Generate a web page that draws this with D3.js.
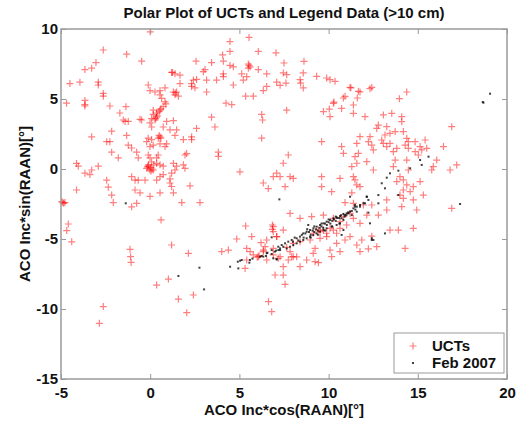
<!DOCTYPE html>
<html><head><meta charset="utf-8">
<script src="https://cdn.jsdelivr.net/npm/d3@7"></script>
<style>
html,body{margin:0;padding:0;background:#fff;}
svg{display:block;}
text{font-family:"Liberation Sans",Arial,sans-serif;font-weight:bold;fill:#111;}
</style></head>
<body>
<svg id="chart" width="521" height="423"></svg>
<script>
const titleText = "Polar Plot of UCTs and Legend Data (>10 cm)";
const xLabelText = "ACO Inc*cos(RAAN)[°]";
const yLabelText = "ACO Inc*sin(RAAN)[°]";
const xTicks = [-5, 0, 5, 10, 15, 20];
const yTicks = [-15, -10, -5, 0, 5, 10];
const seriesNames = ["UCTs", "Feb 2007"];

// UCTs (red +), [x, y]
const uctUpperLeft = [[0.0,9.8],[4.47,9.1],[5.54,9.4],[-2.63,8.5],[-1.32,8.2],[-0.48,7.7],[4.47,8.4],[6.06,8.4],[7.05,8.3],[-3.04,7.6],[-3.28,7.2],[-3.66,7.1],[4.06,8.15],[4.1,7.7],[2.57,7.7],[3.44,7.6],[4.47,7.4],[4.66,7.3],[5.54,7.4],[5.5,7.2],[5.5,7.5],[5.6,7.3],[1.2,6.9],[1.25,6.9],[1.39,6.8],[1.67,6.7],[2.98,6.95],[3.07,7.1],[2.6,6.4],[2.42,6.35],[2.32,6.1],[3.16,6.35],[3.72,6.35],[4.1,6.6],[4.1,6.8],[5.13,6.8],[5.41,6.6],[5.22,6.35],[6.06,7.1],[6.53,6.8],[7.09,6.2],[6.34,5.6],[6.53,5.9],[5.35,5.2],[5.78,5.2],[4.66,6.0],[-4.5,6.1],[-3.94,6.2],[-2.91,6.2],[-2.91,6.0],[-2.63,5.4],[-2.63,5.2],[1.67,6.1],[2.32,5.9],[2.51,5.8],[3.16,5.5],[-0.11,6.0],[-0.01,5.6],[0.27,5.5],[0.55,5.6],[0.83,5.8],[1.3,5.5],[1.39,5.3],[1.48,5.5],[1.58,5.2],[1.4,5.45],[-4.69,4.7],[-3.66,4.9],[-3.66,4.6],[-3.66,4.5],[-2.26,4.5],[-1.36,4.45],[-1.7,4.0],[0.83,4.8],[0.88,4.65],[0.73,4.45],[0.55,4.2],[0.36,4.0],[0.17,3.9],[0.08,3.6],[-0.01,3.3],[0.08,3.0],[0.27,3.5],[0.36,3.7],[0.17,4.2],[0.4,3.8],[0.5,4.1],[0.6,4.3],[0.3,3.6],[0.55,5.3],[0.64,5.05],[-0.48,3.5],[-0.57,3.55],[-1.41,3.4],[-1.23,3.4],[-1.51,3.5],[0.92,3.4],[1.3,3.45],[0.73,3.0],[1.11,2.8],[1.39,2.4],[1.48,2.8],[3.44,3.7],[3.63,3.0],[2.6,2.9],[4.25,4.7],[4.57,4.6]];
const uctMiddleLeft = [[-3.28,2.3],[-2.44,1.95],[-2.26,1.95],[-2.16,2.7],[-1.32,2.4],[-1.23,1.7],[-1.04,1.5],[-2.16,1.2],[-1.79,0.8],[-0.76,1.2],[-0.67,0.8],[-0.11,2.2],[0.08,2.1],[0.17,1.7],[-0.01,1.6],[-0.2,1.95],[0.55,2.3],[0.5,2.4],[0.6,2.2],[0.45,2.2],[0.55,1.8],[0.92,1.8],[0.83,1.6],[1.86,2.1],[2.32,2.3],[2.32,2.1],[2.04,1.1],[1.95,1.0],[3.82,1.2],[3.82,0.9],[-0.11,1.0],[-0.01,0.8],[0.08,0.5],[-0.11,0.2],[-0.01,-0.07],[-0.2,0.05],[0.0,0.1],[-0.1,0.3],[0.1,0.0],[0.05,-0.15],[-0.15,0.15],[0.2,0.3],[0.36,0.8],[0.45,1.0],[0.36,0.4],[0.55,0.3],[0.73,0.2],[0.17,-0.07],[1.3,0.4],[1.48,0.2],[1.39,-0.07],[1.2,-0.3],[1.86,0.3],[1.95,0.05],[-4.13,0.4],[-4.03,0.2],[-3.66,-0.3],[-3.28,-0.07],[-3.38,-0.4],[-2.91,0.2],[-2.44,-0.8],[-2.35,-1.3],[-4.13,-1.5],[-1.04,-0.55],[-0.85,-0.8],[-0.67,-0.8],[-0.29,-0.8],[0.36,-0.8],[0.55,-0.55],[0.73,-0.4],[1.11,-0.7],[1.11,-1.0],[1.2,-1.25],[-0.85,-1.5],[-0.57,-1.7],[0.55,-1.7],[1.3,-1.7],[2.23,-1.2],[-0.01,-1.95],[5.03,-0.2],[6.25,2.2],[6.3,3.5],[6.25,3.9],[6.34,-1.0],[6.62,-1.4],[6.9,-0.55],[7.09,-0.3],[7.28,-0.55]];
const uctLowerLeft = [[-2.16,-1.86],[-0.76,-2.45],[-1.04,-2.7],[-2.07,-2.4],[-4.78,-2.4],[-4.96,-2.33],[-4.85,-2.45],[-4.9,-2.4],[1.77,-2.4],[2.79,-2.4],[-4.59,-3.93],[-4.68,-4.4],[-4.4,-5.2],[0.61,-3.64],[-1.13,-5.74],[-1.1,-6.26],[-1.07,-6.67],[1.2,-5.43],[2.14,-6.02],[1.02,-7.86],[0.36,-8.29],[1.58,-9.29],[2.42,-9.0],[2.05,-10.26],[-2.63,-9.83],[-2.85,-11.02],[5.35,-4.07],[5.69,-4.83],[4.85,-5.0],[6.21,-5.26],[6.85,-4.0],[6.85,-4.31],[4.01,-5.9],[4.38,-5.79],[5.41,-5.67],[5.6,-5.9],[5.78,-6.14],[6.06,-6.26],[6.0,-6.3],[6.1,-6.2],[5.41,-6.5],[5.32,-7.1],[6.35,-5.79],[6.53,-6.5],[7.09,-4.83],[6.9,-5.67],[7.0,-7.57],[6.63,-9.48],[6.81,-10.19]];
const uctUpperRight = [[7.5,7.57],[8.62,7.69],[7.46,6.86],[7.65,6.74],[8.58,6.86],[7.28,5.98],[7.61,6.14],[8.4,6.38],[8.43,6.14],[8.58,5.79],[9.33,6.62],[9.89,6.5],[10.08,6.38],[10.36,6.26],[11.2,5.83],[11.25,5.8],[11.67,5.55],[11.76,5.5],[12.42,5.83],[12.32,5.74],[14.38,5.5],[13.97,5.02],[10.92,5.19],[10.83,5.07],[11.61,5.07],[10.3,4.78],[10.04,4.28],[10.27,4.69],[10.73,4.33],[11.39,4.57],[11.39,3.98],[10.08,3.74],[9.71,4.1],[7.65,4.2],[12.04,3.74],[13.07,3.86],[13.54,3.98],[14.1,3.74],[14.1,3.38],[12.79,3.14],[12.7,2.9],[13.26,3.02],[13.73,2.67],[13.44,2.55],[13.16,2.43],[12.98,2.07],[13.07,1.83],[13.26,1.6],[13.44,1.83],[13.63,1.24],[13.82,1.48],[14.19,2.67],[14.38,2.19],[14.47,1.95],[14.29,1.71],[14.47,1.48],[14.85,1.95],[15.13,1.6],[15.41,2.07],[14.85,1.24],[15.03,1.0],[15.22,1.36],[15.5,1.48],[16.06,0.64],[15.87,0.17],[15.78,-0.07],[16.44,1.6],[16.9,3.02],[17.18,0.29],[16.81,-0.07],[16.9,-2.81],[11.76,2.31],[12.23,1.95],[12.32,2.31],[12.42,1.71],[12.51,1.36],[11.58,1.83],[10.73,1.6],[10.83,1.12],[9.61,1.95],[7.74,1.0],[7.46,0.41],[11.3,0.17],[11.58,0.41],[12.14,0.52],[12.51,-0.07],[11.67,1.12],[11.48,0.88],[14.38,0.64],[14.47,-0.07],[13.73,0.64],[13.63,0.17]];
const uctLowerRight = [[7.56,-1.26],[7.84,-0.55],[8.02,-0.67],[9.61,-0.55],[9.61,-1.26],[10.17,-1.62],[10.64,-0.67],[11.39,-0.55],[11.48,-0.78],[11.58,-1.14],[11.76,-1.26],[11.3,-1.7],[10.92,-2.4],[11.39,-2.45],[11.95,-2.57],[14.0,-0.55],[14.19,-0.78],[14.38,-1.14],[14.19,-1.5],[14.0,-1.86],[14.19,-2.1],[14.57,-1.62],[14.75,-1.26],[15.13,-0.9],[15.31,-1.86],[14.75,-2.21],[14.94,-2.93],[14.1,-2.69],[13.26,-2.21],[13.82,-0.9],[13.26,-2.93],[12.79,-3.29],[12.42,-2.57],[12.14,-3.29],[11.76,-3.88],[11.39,-3.52],[11.2,-3.17],[10.83,-3.4],[10.64,-3.76],[10.27,-3.52],[10.08,-4.24],[9.71,-4.36],[9.43,-4.36],[9.05,-3.4],[9.71,-3.3],[8.4,-3.52],[7.84,-3.17],[6.9,-4.12],[6.9,-4.48],[7.09,-4.83],[7.46,-4.36],[6.53,-5.07],[6.44,-5.55],[6.34,-5.9],[10.45,-5.31],[10.08,-5.79],[10.17,-6.26],[10.64,-5.9],[10.92,-5.07],[11.2,-4.83],[11.58,-5.43],[11.86,-5.07],[12.42,-4.8],[12.23,-5.7],[12.7,-5.55],[13.44,-4.36],[13.91,-4.36],[14.75,-4.24],[14.29,-5.67],[8.02,-5.31],[8.4,-5.19],[8.96,-5.07],[9.24,-5.67],[9.14,-6.02],[8.77,-6.5],[9.24,-6.62],[9.43,-6.69],[7.46,-6.98],[8.02,-6.26],[7.28,-6.26],[6.9,-6.14],[9.14,-4.59],[9.52,-4.48],[9.89,-4.59],[10.27,-4.36],[10.64,-4.24],[11.01,-4.0],[9.89,-4.83],[9.52,-4.95],[10.45,-4.59],[7.46,-7.58],[7.56,-8.24],[8.4,-6.98],[11.76,-5.9],[7.18,-6.38],[7.93,-6.27],[8.21,-6.27],[7.74,-6.5],[7.84,-5.9],[7.65,-5.6]];

// Feb 2007 (black dots), [x, y]
const febOutliers = [[-1.37,-2.45],[2.76,-7.05],[1.58,-7.64],[3.02,-8.6],[7.24,-2.17],[18.68,4.74],[19.05,5.38],[18.64,4.78],[17.37,-2.5],[12.42,-4.95],[13.16,-4.6],[12.42,-5.07],[12.51,-5.07],[13.91,-1.86]];
const febArm = [[15.6,0.88],[15.13,0.64],[15.22,0.29],[14.57,0.05],[13.91,-0.12],[13.44,-0.31],[13.26,-0.62],[12.98,-1.02],[13.16,-1.38],[12.79,-1.86],[12.79,-2.45],[12.32,-3.88],[12.14,-1.98],[12.23,-2.21],[11.95,-2.45],[11.76,-2.69],[11.48,-2.69],[11.2,-1.98],[12.14,-1.98],[12.23,-3.12]];
const febBand = [[4.48,-6.98],[4.94,-7.1],[4.91,-6.62],[5.04,-6.55],[5.13,-6.5],[5.56,-6.69],[5.73,-6.4],[5.59,-6.5],[6.16,-6.26],[6.25,-6.21],[6.49,-6.21],[6.57,-5.98],[7.06,-5.83],[7.19,-5.79],[7.09,-6.45],[6.81,-4.88],[6.81,-5.79],[6.9,-6.38],[7.18,-5.55],[7.28,-5.67],[7.37,-5.43],[7.56,-5.31],[7.74,-5.19],[7.93,-5.07],[8.21,-4.95],[8.4,-4.83],[8.58,-4.6],[8.77,-4.48],[8.86,-4.0],[8.96,-4.36],[9.15,-4.24],[9.33,-4.12],[9.52,-4.0],[9.71,-3.88],[9.89,-3.76],[10.08,-3.64],[10.27,-3.52],[10.45,-3.45],[10.64,-3.36],[10.83,-3.21],[11.01,-3.17],[11.2,-3.05],[11.39,-2.81],[11.48,-2.57],[11.58,-2.69],[11.76,-2.57],[12.04,-2.45],[10.83,-4.36],[10.73,-4.71],[11.58,-3.05],[11.3,-3.29],[11.11,-3.17],[10.92,-3.29],[10.73,-3.52],[10.83,-3.64],[10.64,-3.88],[10.45,-4.0],[10.17,-4.12],[9.89,-4.24],[9.71,-4.36],[9.52,-4.48],[9.33,-4.6],[9.14,-4.71],[8.96,-4.83],[8.77,-4.95],[8.58,-5.07],[8.4,-5.19],[8.21,-5.31],[8.02,-5.43],[7.84,-5.55],[7.65,-5.67],[7.46,-5.55],[7.28,-5.79],[6.99,-5.9],[6.81,-6.07],[6.53,-6.02],[6.34,-6.26],[7.09,-6.45],[8.0,-5.2],[8.1,-4.9],[8.3,-5.1],[8.5,-4.7],[8.6,-4.9],[8.7,-4.6],[8.9,-4.5],[9.0,-4.7],[9.1,-4.4],[9.2,-4.5],[9.3,-4.3],[9.4,-4.4],[9.5,-4.2],[9.6,-4.1],[9.7,-4.2],[9.8,-3.9],[9.9,-4.0],[10.0,-3.8],[10.1,-3.9],[10.2,-3.7],[10.3,-3.6],[10.4,-3.7],[10.5,-3.5],[10.6,-3.5],[10.7,-3.3],[10.9,-3.4],[11.0,-3.3],[11.1,-3.1],[11.3,-3.0],[11.5,-2.9],[9.0,-4.9],[9.4,-4.7],[9.8,-4.4],[10.2,-4.1],[10.6,-3.9],[8.8,-4.3],[9.2,-4.1],[9.6,-3.9],[10.0,-3.6],[10.4,-3.4]];

const uctData = [].concat(uctUpperLeft, uctMiddleLeft, uctLowerLeft, uctUpperRight, uctLowerRight);
const febData = [].concat(febOutliers, febArm, febBand);

const svg = d3.select("#chart");
const m = {left: 61, right: 507, top: 29, bottom: 379};
const x = d3.scaleLinear().domain([-5, 20]).range([m.left, m.right]);
const y = d3.scaleLinear().domain([-15, 10]).range([m.bottom, m.top]);
const frameColor = "#9a9a9a";
const fontSize = 15;

svg.append("rect").attr("x", m.left).attr("y", m.top)
  .attr("width", m.right - m.left).attr("height", m.bottom - m.top).attr("fill", "#fff");

// data
const gU = svg.append("g");
gU.selectAll("path").data(uctData).join("path")
  .attr("d", d => `M${x(d[0]) - 3.5},${y(d[1])}h7M${x(d[0])},${y(d[1]) - 3.5}v7`)
  .attr("stroke", "rgba(255,0,0,0.5)").attr("stroke-width", 1.2).attr("fill", "none");
const gF = svg.append("g");
gF.selectAll("rect").data(febData).join("rect")
  .attr("x", d => x(d[0]) - 1).attr("y", d => y(d[1]) - 1)
  .attr("width", 2).attr("height", 2).attr("fill", "rgba(0,0,0,0.75)");

// axes
function styleAxis(g, showLabels) {
  g.selectAll(".domain").remove();
  g.selectAll(".tick line").attr("stroke", frameColor);
  g.selectAll(".tick text").attr("font-size", fontSize).attr("font-family", '"Liberation Sans", Arial, sans-serif')
    .attr("font-weight", "bold").attr("fill", "#111");
  if (!showLabels) g.selectAll(".tick text").remove();
}
svg.append("g").attr("transform", `translate(0,${m.bottom})`)
  .call(d3.axisBottom(x).tickValues(xTicks).tickSize(-5).tickPadding(8).tickFormat(d3.format("d")))
  .call(g => styleAxis(g, true));
svg.append("g").attr("transform", `translate(0,${m.top})`)
  .call(d3.axisTop(x).tickValues(xTicks).tickSize(-5).tickFormat(""))
  .call(g => styleAxis(g, false));
svg.append("g").attr("transform", `translate(${m.left},0)`)
  .call(d3.axisLeft(y).tickValues(yTicks).tickSize(-5).tickPadding(3).tickFormat(d3.format("d")))
  .call(g => styleAxis(g, true));
svg.append("g").attr("transform", `translate(${m.right},0)`)
  .call(d3.axisRight(y).tickValues(yTicks).tickSize(-5).tickFormat(""))
  .call(g => styleAxis(g, false));

svg.selectAll(".tick text").filter(function(){return this.textContent.startsWith("−");})
  .text(function(){return "-" + this.textContent.slice(1);});

// frame
svg.append("rect").attr("x", m.left).attr("y", m.top)
  .attr("width", m.right - m.left).attr("height", m.bottom - m.top)
  .attr("fill", "none").attr("stroke", frameColor).attr("stroke-width", 1.5);

// titles
svg.append("text").attr("x", (m.left + m.right) / 2).attr("y", 18)
  .attr("text-anchor", "middle").attr("font-size", fontSize).text(titleText);
svg.append("text").attr("x", (m.left + m.right) / 2).attr("y", 415)
  .attr("text-anchor", "middle").attr("font-size", fontSize).text(xLabelText);
svg.append("text").attr("transform", `translate(30,${(m.top + m.bottom) / 2}) rotate(-90)`)
  .attr("text-anchor", "middle").attr("font-size", fontSize).text(yLabelText);

// legend
const lg = svg.append("g");
lg.append("rect").attr("x", 394).attr("y", 333).attr("width", 110).attr("height", 40)
  .attr("fill", "#fff").attr("stroke", frameColor).attr("stroke-width", 1);
const legendY = [346, 363];
lg.append("path").attr("d", `M${413 - 3.5},${legendY[0]}h7M413,${legendY[0] - 3.5}v7`)
  .attr("stroke", "rgba(255,0,0,0.5)").attr("stroke-width", 1.2);
lg.append("rect").attr("x", 412).attr("y", legendY[1] - 1).attr("width", 2).attr("height", 2).attr("fill", "rgba(0,0,0,0.75)");
lg.selectAll("text.lt").data(seriesNames).join("text").attr("class", "lt")
  .attr("x", 432).attr("y", (d, i) => legendY[i] + 5).attr("font-size", fontSize).text(d => d);
</script>
</body></html>
